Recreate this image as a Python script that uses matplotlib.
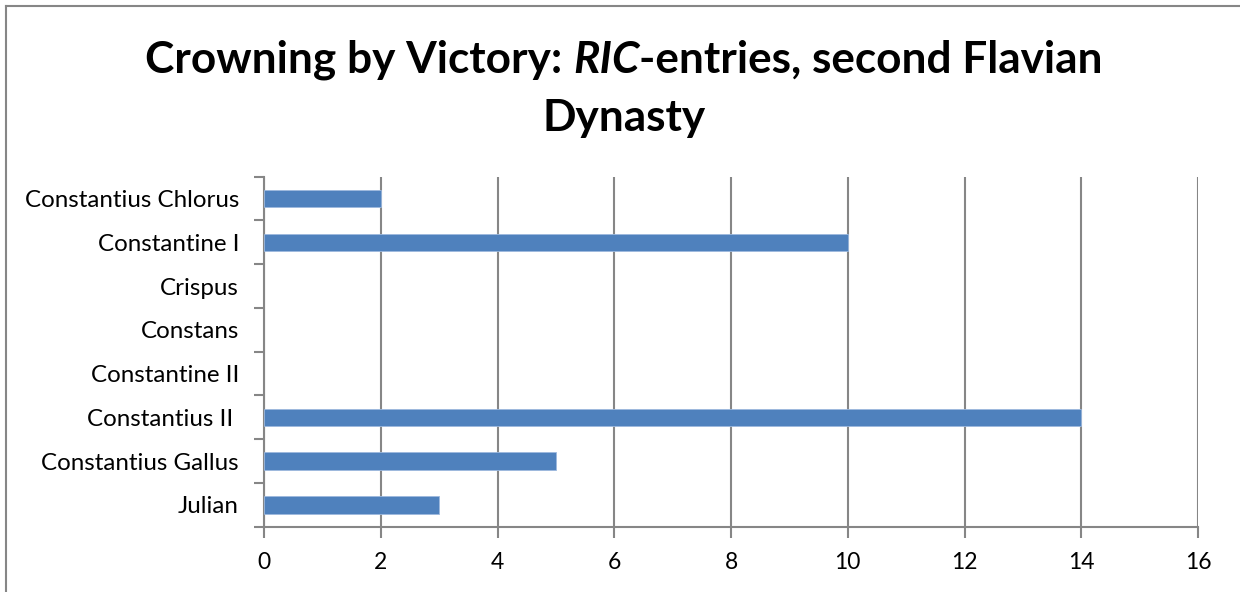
import matplotlib
matplotlib.use("Agg")
import matplotlib.pyplot as plt
from matplotlib.lines import Line2D
import numpy as np

plt.rcParams.update({"font.family": ["Lato", "DejaVu Sans"]})

rulers = ["Constantius Chlorus", "Constantine I", "Crispus", "Constans",
          "Constantine II", "Constantius II ", "Constantius Gallus", "Julian"]
entries = [2, 10, 0, 0, 0, 14, 5, 3]
xticks = [0, 2, 4, 6, 8, 10, 12, 14, 16]

BLUE = "#4F81BD"
GREY = "#868686"

fig = plt.figure(figsize=(12.4, 5.92), dpi=100)
ax = fig.add_axes([264 / 1240, 1 - 526.7 / 592, (1198 - 264) / 1240, (526.7 - 176.7) / 592])

ypos = np.arange(len(rulers))
ax.barh(ypos, entries, height=0.4, color=BLUE, edgecolor="#9DB9DE",
        linewidth=[0.6 if v > 0 else 0 for v in entries], zorder=3)
ax.set_ylim(len(rulers) - 0.5, -0.5)
ax.set_xlim(0, 16)

ax.set_xticks(xticks)
ax.set_xticklabels([str(v) for v in xticks])
ax.set_yticks(ypos)
ax.set_yticklabels(rulers)
ax.set_yticks(np.arange(-0.5, len(rulers)), minor=True)
ax.tick_params(axis="y", which="major", length=0, pad=18, labelsize=17.4)
ax.tick_params(axis="y", which="minor", length=7, width=1.5, color=GREY)
ax.tick_params(axis="x", length=8, width=1.5, color=GREY, pad=10, labelsize=16.5)
ax.xaxis.grid(True, color=GREY, linewidth=1.5, zorder=0)
for side in ["top", "right"]:
    ax.spines[side].set_visible(False)
for side in ["left", "bottom"]:
    ax.spines[side].set_color(GREY)
    ax.spines[side].set_linewidth(1.5)

# title: bold with italic "RIC", centred over the figure
fig.canvas.draw()
r = fig.canvas.get_renderer()
parts = [("Crowning by Victory: ", "normal"), ("RIC", "italic"), ("-entries, second Flavian", "normal")]
kw = dict(fontsize=31.8, fontweight="bold", va="baseline", ha="left")
texts = [fig.text(0, 1 - 73 / 592, s, style=st, **kw) for s, st in parts]
widths = [t.get_window_extent(r).width for t in texts]
x = 624 - sum(widths) / 2
for t, w in zip(texts, widths):
    t.set_x(x / 1240)
    x += w
fig.text(624 / 1240, 1 - 131 / 592, "Dynasty", ha="center", va="baseline",
         fontsize=31.8, fontweight="bold")

# chart frame (only left and top edges visible in crop)
fig.add_artist(Line2D([5.5 / 1240, 5.5 / 1240], [0, 1 - 5.5 / 592], color=GREY, lw=1.5))
fig.add_artist(Line2D([5.5 / 1240, 1], [1 - 5.5 / 592, 1 - 5.5 / 592], color=GREY, lw=1.5))

fig.savefig("out.png", dpi=100)
